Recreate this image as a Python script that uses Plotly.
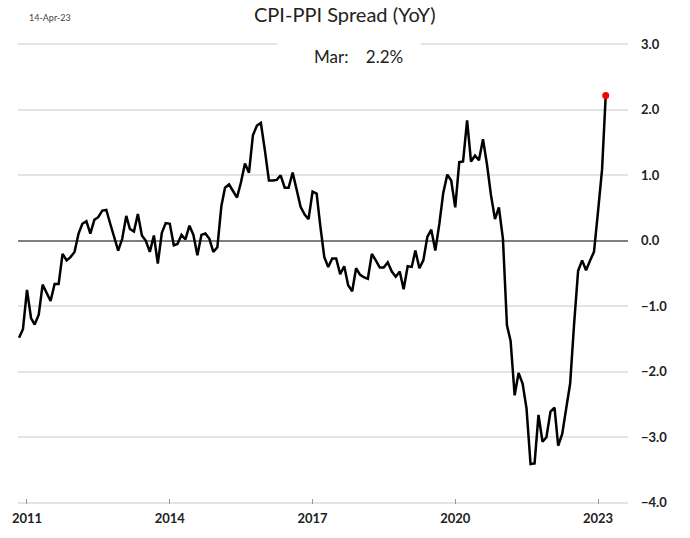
import pandas as pd
import plotly.graph_objects as go

START_MONTH = "2010-11-01"
spread = [
    -1.48, -1.35, -0.75, -1.18, -1.28, -1.13, -0.67, -0.80, -0.92, -0.66,
    -0.66, -0.20, -0.30, -0.25, -0.17, 0.11, 0.26, 0.30, 0.11, 0.32,
    0.36, 0.46, 0.47, 0.26, 0.06, -0.15, 0.03, 0.38, 0.18, 0.14,
    0.41, 0.08, 0.00, -0.17, 0.08, -0.35, 0.12, 0.27, 0.26, -0.07,
    -0.05, 0.09, 0.02, 0.23, 0.09, -0.22, 0.09, 0.11, 0.03, -0.17,
    -0.10, 0.53, 0.81, 0.86, 0.76, 0.66, 0.89, 1.18, 1.04, 1.61,
    1.76, 1.80, 1.38, 0.92, 0.92, 0.93, 1.00, 0.81, 0.81, 1.04,
    0.78, 0.52, 0.40, 0.33, 0.75, 0.72, 0.23, -0.25, -0.40, -0.27,
    -0.27, -0.51, -0.39, -0.68, -0.77, -0.42, -0.52, -0.56, -0.58, -0.20,
    -0.30, -0.41, -0.41, -0.33, -0.47, -0.55, -0.47, -0.74, -0.39, -0.40,
    -0.15, -0.42, -0.30, 0.06, 0.17, -0.15, 0.26, 0.73, 1.01, 0.92,
    0.51, 1.20, 1.21, 1.84, 1.21, 1.30, 1.23, 1.55, 1.16, 0.70,
    0.33, 0.51, 0.03, -1.29, -1.53, -2.36, -2.02, -2.18, -2.56, -3.41,
    -3.40, -2.66, -3.07, -3.00, -2.61, -2.55, -3.13, -2.95, -2.57, -2.18,
    -1.28, -0.46, -0.30, -0.45, -0.30, -0.17, 0.45, 1.09, 2.22,
]
months = pd.date_range(START_MONTH, periods=len(spread), freq="MS")

x_ticks = ["2011-01-01", "2014-01-01", "2017-01-01", "2020-01-01", "2023-01-01"]
x_tick_labels = ["2011", "2014", "2017", "2020", "2023"]
y_ticks = [3.0, 2.0, 1.0, 0.0, -1.0, -2.0, -3.0, -4.0]

title_text = "CPI-PPI Spread (YoY)"
date_text = "14-Apr-23"
latest_text = "Mar:&nbsp;&nbsp;&nbsp;&nbsp;2.2%"

FONT = "Lato"

fig = go.Figure()
fig.add_trace(go.Scatter(
    x=months, y=spread, mode="lines",
    line=dict(color="black", width=2.5),
    hoverinfo="skip", showlegend=False,
))
fig.add_trace(go.Scatter(
    x=[months[-1]], y=[spread[-1]], mode="markers",
    marker=dict(color="#ff0000", size=7),
    hoverinfo="skip", showlegend=False,
))

fig.update_layout(
    width=690, height=538,
    margin=dict(l=14, r=62, t=43, b=31),
    paper_bgcolor="white", plot_bgcolor="white",
    font=dict(family=FONT, color="#222"),
    xaxis=dict(
        type="date",
        range=["2010-10-24", "2023-08-19"],
        tickvals=x_ticks, ticktext=x_tick_labels,
        ticks="inside", ticklen=5, tickcolor="#999", tickwidth=1,
        showgrid=False, zeroline=False, showline=False,
        ticklabelstandoff=5,
        tickfont=dict(family=FONT, size=13, color="#222", weight="bold"),
    ),
    yaxis=dict(
        range=[-4.02, 3.02], side="right",
        tickvals=y_ticks, tickformat=".1f",
        showgrid=True, gridcolor="#e4e4e4", gridwidth=1.5,
        zeroline=True, zerolinecolor="#7f7f7f", zerolinewidth=1.5,
        showline=False, ticks="",
        ticklabelstandoff=12,
        tickfont=dict(family=FONT, size=13, color="#222", weight="bold"),
    ),
)

fig.add_annotation(
    xref="paper", yref="paper", x=0.536, y=1.062,
    text=title_text, showarrow=False, xanchor="center", yanchor="middle",
    font=dict(family=FONT, size=20, color="#222"),
)
fig.add_annotation(
    xref="paper", yref="paper", x=0.0147, y=1.056,
    text=date_text, showarrow=False, xanchor="left", yanchor="middle",
    font=dict(family=FONT, size=9, color="#444"),
)
# white box breaking the top gridline behind the latest-value label
fig.add_annotation(
    xref="paper", yref="paper", x=0.542, y=0.97,
    text=" ", showarrow=False, xanchor="center", yanchor="middle",
    width=140, height=30, bgcolor="white",
)
fig.add_annotation(
    xref="paper", yref="paper", x=0.558, y=0.97,
    text=latest_text, showarrow=False, xanchor="center", yanchor="middle",
    font=dict(family=FONT, size=17, color="#222"),
)

fig.write_html(
    "out.html",
    config={"displayModeBar": False},
    post_script="document.body.style.margin='0';",
)
